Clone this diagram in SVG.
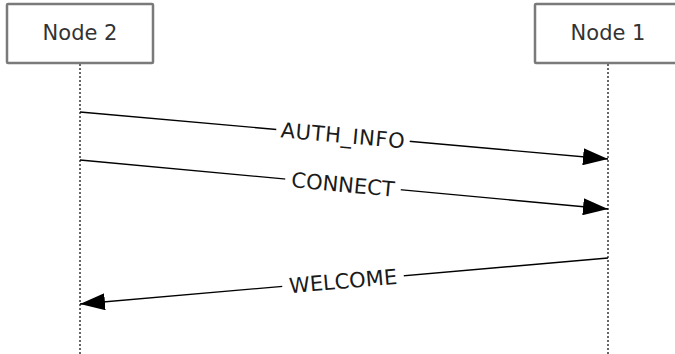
<svg xmlns="http://www.w3.org/2000/svg" width="675" height="354" viewBox="0 0 675 354">
<style>
.box{fill:#fff;stroke:#7a7a7a;stroke-width:2.5}
.life{stroke:#666;stroke-width:2;stroke-dasharray:2 2;fill:none}
.msg{stroke:#000;stroke-width:1.4;fill:none}
.lbl{font-family:"DejaVu Sans",Verdana,sans-serif;font-size:21px;fill:#1a1a1a;text-anchor:middle}
.nlbl{font-family:"DejaVu Sans",Verdana,sans-serif;font-size:21px;fill:#333;text-anchor:middle}
.bg{fill:#fff}
</style>
<defs>
<marker id="ah" markerWidth="25" markerHeight="17" refX="25" refY="8.5" orient="auto" markerUnits="userSpaceOnUse">
<path d="M0,0 L25,8.5 L0,17 Z" fill="#000"/>
</marker>
</defs>
<rect width="675" height="354" fill="#fff"/>
<g id="lifelines">
<line class="life" x1="80" y1="64" x2="80" y2="354"/>
<line class="life" x1="608" y1="64" x2="608" y2="354"/>
</g>
<g id="node2">
<rect class="box" x="7" y="4" width="146" height="59" rx="1"/>
<text class="nlbl" x="80" y="40">Node 2</text>
</g>
<g id="node1">
<rect class="box" x="535" y="4" width="146" height="59" rx="1"/>
<text class="nlbl" x="608" y="40">Node 1</text>
</g>
<g id="connectors">
<g id="m1">
<line class="msg" x1="80" y1="112" x2="608" y2="159" marker-end="url(#ah)"/>
<g transform="translate(343,135.4) rotate(5.09)">
<rect class="bg" x="-67" y="-14" width="134" height="28"/>
<text class="lbl" x="0" y="7.5" letter-spacing="0.6">AUTH_INFO</text>
</g>
</g>
<g id="m2">
<line class="msg" x1="80" y1="160" x2="608" y2="209" marker-end="url(#ah)"/>
<g transform="translate(343,184.4) rotate(5.3)">
<rect class="bg" x="-58" y="-14" width="116" height="28"/>
<text class="lbl" x="0" y="7.5">CONNECT</text>
</g>
</g>
<g id="m3">
<line class="msg" x1="608" y1="258" x2="80" y2="304" marker-end="url(#ah)"/>
<g transform="translate(343,281) rotate(-4.98)">
<rect class="bg" x="-61" y="-14" width="122" height="28"/>
<text class="lbl" x="0" y="7.5">WELCOME</text>
</g>
</g>
</g>
</svg>
